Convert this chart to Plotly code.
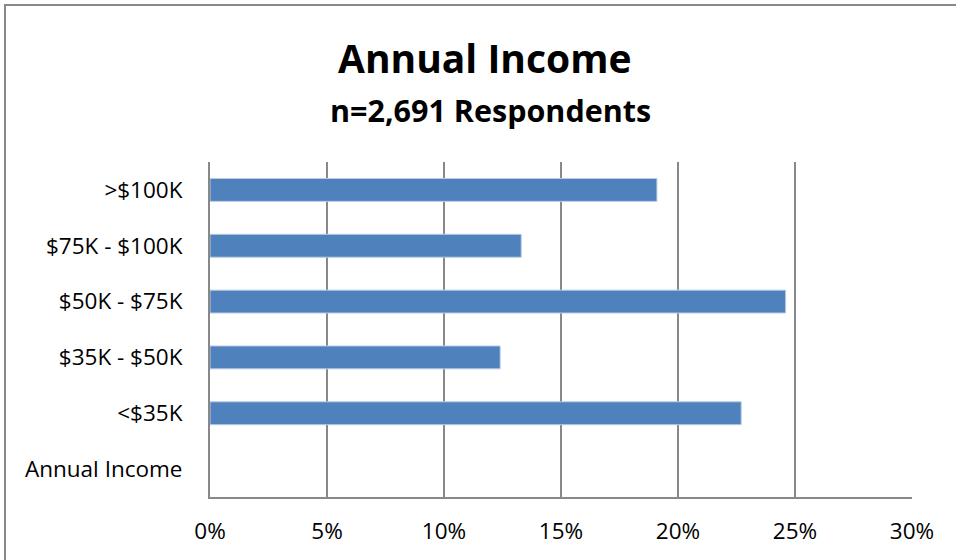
import plotly.graph_objects as go

# Income brackets (bottom to top) and share of respondents (%)
categories = ["Annual Income", "<$35K", "$35K - $50K", "$50K - $75K", "$75K - $100K", ">$100K"]
shares = [None, 22.7, 12.4, 24.6, 13.3, 19.1]
x_ticks = [0, 5, 10, 15, 20, 25, 30]
x_tick_labels = ["0%", "5%", "10%", "15%", "20%", "25%", "30%"]

W, H = 956, 560
L, R, T, B = 210, 44, 162, 63
pw, ph = W - L - R, H - T - B

def px_to_paper_x(px):
    return (px - L) / pw

def px_to_paper_y(py):
    return (H - B - py) / ph

FONT = "Open Sans"

fig = go.Figure(go.Bar(
    y=categories,
    x=shares,
    orientation="h",
    marker=dict(color="#4F81BD", line=dict(color="#B9CDE5", width=1)),
    width=0.41,
))

fig.update_layout(
    width=W, height=H,
    margin=dict(l=L, r=R, t=T, b=B),
    paper_bgcolor="white",
    plot_bgcolor="white",
    showlegend=False,
    font=dict(family=FONT, color="black", size=22),
    xaxis=dict(
        range=[0, 30],
        tickvals=x_ticks,
        ticktext=x_tick_labels,
        showgrid=True,
        gridcolor="#888888",
        gridwidth=2,
        zeroline=False,
        showline=True,
        linecolor="#888888",
        linewidth=2,
        ticks="",
        ticklabelstandoff=13,
        tickfont=dict(size=22.5, family=FONT),
        fixedrange=True,
    ),
    yaxis=dict(
        type="category",
        categoryorder="array",
        categoryarray=categories,
        showgrid=False,
        zeroline=False,
        showline=True,
        linecolor="#888888",
        linewidth=2,
        ticks="",
        ticklabelstandoff=21,
        tickfont=dict(size=22.5, family=FONT),
        fixedrange=True,
    ),
    shapes=[
        dict(
            type="rect", xref="paper", yref="paper",
            x0=px_to_paper_x(5), x1=px_to_paper_x(970),
            y0=px_to_paper_y(575), y1=px_to_paper_y(5),
            line=dict(color="#888888", width=2),
            fillcolor="rgba(0,0,0,0)",
            layer="below",
        ),
    ],
    annotations=[
        dict(text="<b>Annual Income</b>", xref="paper", yref="paper",
             x=px_to_paper_x(484), y=px_to_paper_y(57), xanchor="center", yanchor="middle",
             showarrow=False, font=dict(size=39, family=FONT)),
        dict(text="<b>n=2,691 Respondents</b>", xref="paper", yref="paper",
             x=px_to_paper_x(490), y=px_to_paper_y(110), xanchor="center", yanchor="middle",
             showarrow=False, font=dict(size=30.5, family=FONT)),
    ],
)

fig.write_html("out.html")
